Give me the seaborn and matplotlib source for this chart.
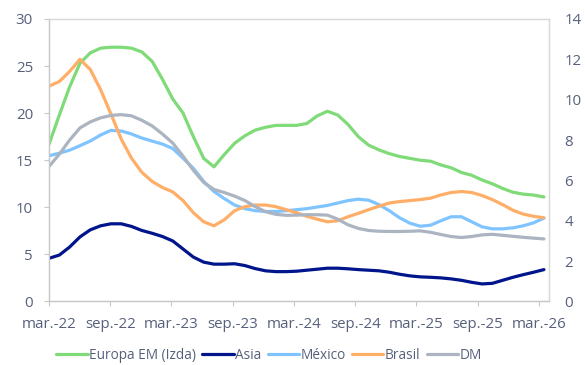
import numpy as np
import pandas as pd
import matplotlib
matplotlib.use("Agg")
import matplotlib.pyplot as plt
import seaborn as sns

# ---- data (monthly, Mar-22 .. Mar-26) ----
tick_labels = ["mar.-22", "sep.-22", "mar.-23", "sep.-23", "mar.-24",
               "sep.-24", "mar.-25", "sep.-25", "mar.-26"]

europa_em = [16.7, 19.8, 22.8, 25.3, 26.4, 26.9, 27.0, 27.0, 26.9, 26.5,
             25.5, 23.6, 21.5, 20.0, 17.5, 15.2, 14.3, 15.6, 16.8, 17.6,
             18.2, 18.5, 18.7, 18.7, 18.7, 18.9, 19.7, 20.2, 19.8, 18.8,
             17.5, 16.6, 16.1, 15.7, 15.4, 15.2, 15.0, 14.9, 14.5, 14.2,
             13.7, 13.4, 12.9, 12.5, 12.0, 11.6, 11.4, 11.3, 11.1]

asia = [2.14, 2.30, 2.70, 3.20, 3.55, 3.75, 3.85, 3.85, 3.72, 3.52,
        3.38, 3.22, 3.00, 2.60, 2.20, 1.95, 1.85, 1.85, 1.87, 1.78,
        1.63, 1.52, 1.48, 1.48, 1.50, 1.55, 1.60, 1.65, 1.65, 1.62,
        1.58, 1.55, 1.52, 1.45, 1.35, 1.27, 1.22, 1.20, 1.17, 1.12,
        1.05, 0.95, 0.87, 0.90, 1.05, 1.20, 1.33, 1.45, 1.58]

mexico = [7.22, 7.35, 7.50, 7.72, 7.95, 8.25, 8.48, 8.45, 8.30, 8.10,
          7.95, 7.80, 7.58, 7.10, 6.60, 5.95, 5.45, 5.10, 4.78, 4.60,
          4.50, 4.46, 4.46, 4.50, 4.55, 4.60, 4.68, 4.76, 4.88, 5.00,
          5.07, 5.02, 4.80, 4.50, 4.15, 3.88, 3.73, 3.78, 4.00, 4.20,
          4.20, 3.95, 3.70, 3.60, 3.60, 3.65, 3.75, 3.90, 4.13]

brasil = [10.67, 10.90, 11.40, 12.00, 11.50, 10.50, 9.30, 8.05, 7.10, 6.40,
          5.95, 5.65, 5.43, 5.00, 4.40, 3.95, 3.75, 4.05, 4.50, 4.70,
          4.78, 4.78, 4.70, 4.55, 4.40, 4.22, 4.08, 3.95, 4.00, 4.20,
          4.37, 4.55, 4.72, 4.88, 4.95, 5.00, 5.05, 5.12, 5.28, 5.40,
          5.45, 5.40, 5.25, 5.05, 4.80, 4.52, 4.33, 4.22, 4.15]

dm = [6.69, 7.30, 8.00, 8.60, 8.90, 9.10, 9.22, 9.26, 9.20, 8.98,
      8.70, 8.30, 7.85, 7.20, 6.50, 5.90, 5.55, 5.40, 5.22, 5.00,
      4.70, 4.45, 4.32, 4.27, 4.28, 4.30, 4.30, 4.28, 4.08, 3.80,
      3.62, 3.52, 3.48, 3.47, 3.47, 3.48, 3.50, 3.43, 3.32, 3.22,
      3.17, 3.22, 3.30, 3.33, 3.28, 3.23, 3.18, 3.14, 3.10]

month_pos = np.linspace(0, 48.5, len(europa_em))

df = pd.DataFrame({"m": month_pos, "Europa EM (Izda)": europa_em, "Asia": asia,
                   "México": mexico, "Brasil": brasil, "DM": dm})

colors = {"Europa EM (Izda)": "#7FDB78", "Asia": "#00148C", "México": "#80C4FF",
          "Brasil": "#FFAE68", "DM": "#ABB4C0"}

sns.set_style("white")
plt.rcParams["font.family"] = ["Open Sans", "DejaVu Sans"]
text_c = "#56607A"
plt.rcParams["text.color"] = text_c

fig = plt.figure(figsize=(5.85, 3.65), dpi=100)
ax = fig.add_axes([0.0838, 0.174, 0.8547, 0.774])
ax2 = ax.twinx()

lw = 2.3
sns.lineplot(data=df, x="m", y="Europa EM (Izda)", ax=ax, color=colors["Europa EM (Izda)"],
             linewidth=lw, label="Europa EM (Izda)", legend=False)
for name in ["Asia", "México", "Brasil", "DM"]:
    sns.lineplot(data=df, x="m", y=name, ax=ax2, color=colors[name],
                 linewidth=lw, label=name, legend=False)

ax.set_xlim(0, 49)
ax.set_ylim(0, 30)
ax2.set_ylim(0, 14)
ax.set_yticks(range(0, 31, 5))
ax2.set_yticks(range(0, 15, 2))
ax.set_xticks(range(0, 49, 6))
ax.set_xticklabels(tick_labels)
ax.set_xlabel("")
ax.set_ylabel("")
ax2.set_ylabel("")

fs = 10.8
ax.tick_params(axis="y", labelsize=fs, labelcolor=text_c, length=3.5, width=0.8,
               color="#C8C8C8", pad=8, left=True)
ax.tick_params(axis="x", labelsize=fs, labelcolor=text_c, length=3.5, width=0.8,
               color="#C8C8C8", pad=8, bottom=True)
ax2.tick_params(axis="y", labelsize=fs, labelcolor=text_c, length=0, pad=11)

for a in (ax, ax2):
    for s in ["left", "bottom"]:
        a.spines[s].set_color("#C8C8C8")
        a.spines[s].set_linewidth(0.9)
    for s in ["top", "right"]:
        a.spines[s].set_color("#D9D9D9")
        a.spines[s].set_linewidth(0.9)
ax.grid(False)
ax2.grid(False)

h1, l1 = ax.get_legend_handles_labels()
h2, l2 = ax2.get_legend_handles_labels()
fig.legend(h1 + h2, l1 + l2, loc="center", bbox_to_anchor=(0.46, 0.027), ncol=5,
           frameon=False, fontsize=9.8, handlelength=2.3, handletextpad=0.12,
           columnspacing=0.45, labelcolor=text_c)

fig.savefig("out.png", dpi=100)
